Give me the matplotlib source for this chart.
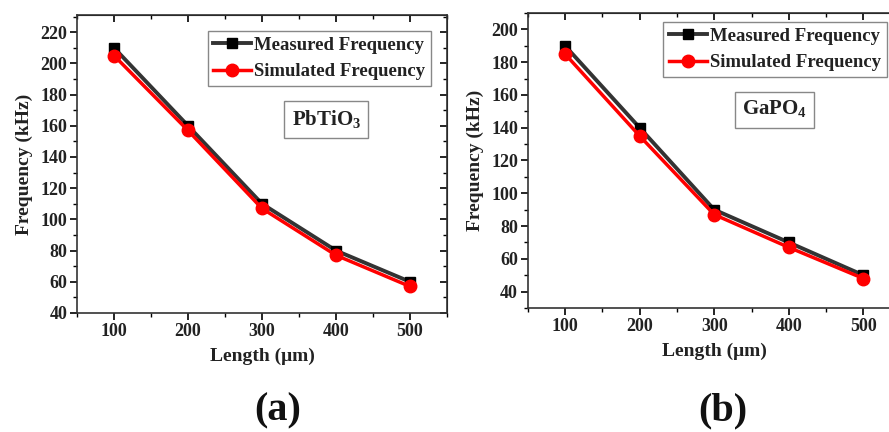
import matplotlib
matplotlib.use('Agg')
import matplotlib.pyplot as plt
from matplotlib.ticker import MultipleLocator

# data
length = [100, 200, 300, 400, 500]
pbtio3_measured = [210, 160, 110, 80, 60]
pbtio3_simulated = [205, 157, 107, 77, 57]
gapo4_measured = [190, 140, 90, 70, 50]
gapo4_simulated = [185, 135, 87, 67, 48]

plt.rcParams['font.family'] = ['Liberation Serif', 'DejaVu Serif']
plt.rcParams['font.weight'] = 'bold'
plt.rcParams['mathtext.fontset'] = 'custom'
plt.rcParams['mathtext.rm'] = 'Liberation Serif:bold'
plt.rcParams['mathtext.bf'] = 'Liberation Serif:bold'

fig = plt.figure(figsize=(8.89, 4.32), dpi=100)


def panel(rect, meas, sim, ylim, material, text_xy, leg_anchor):
    ax = fig.add_axes(rect)
    ax.plot(length, meas, color='#333333', lw=2.8, marker='s', ms=7,
            mfc='black', mec='black', label='Measured Frequency', zorder=3)
    ax.plot(length, sim, color='#ff0000', lw=2.5, marker='o', ms=9,
            mfc='#ff0000', mec='#ff0000', label='Simulated Frequency', zorder=4)
    ax.set_xlim(50, 550)
    ax.set_ylim(*ylim)
    ax.xaxis.set_major_locator(MultipleLocator(100))
    ax.xaxis.set_minor_locator(MultipleLocator(50))
    ax.yaxis.set_major_locator(MultipleLocator(20))
    ax.yaxis.set_minor_locator(MultipleLocator(10))
    ax.tick_params(which='major', direction='out', length=5, width=1.2,
                   labelsize=13, pad=2, labelcolor='#222222')
    ax.tick_params(which='minor', direction='out', length=3, width=1)
    for lbl in ax.get_xticklabels() + ax.get_yticklabels():
        lbl.set_fontweight('bold')
    for sp in ax.spines.values():
        sp.set_linewidth(1.2)
        sp.set_color('#333333')
    # mirrored ticks pointing inward on top and right
    top = ax.secondary_xaxis('top')
    top.set_xticks(length)
    top.xaxis.set_minor_locator(MultipleLocator(50))
    top.tick_params(which='both', direction='in', labeltop=False)
    top.tick_params(which='major', length=5, width=1.2)
    top.tick_params(which='minor', length=3, width=1)
    right = ax.secondary_yaxis('right')
    right.yaxis.set_major_locator(MultipleLocator(20))
    right.yaxis.set_minor_locator(MultipleLocator(10))
    right.tick_params(which='both', direction='in', labelright=False)
    right.tick_params(which='major', length=5, width=1.2)
    right.tick_params(which='minor', length=3, width=1)

    ax.set_xlabel('Length (μm)', fontsize=14, fontweight='bold', labelpad=6,
                  color='#222222')
    ax.set_ylabel('Frequency (kHz)', fontsize=14, fontweight='bold', labelpad=5,
                  color='#222222')
    leg = ax.legend(loc='upper right', bbox_to_anchor=leg_anchor, fontsize=13.5,
                    fancybox=False, framealpha=1, edgecolor='#888888',
                    handlelength=2.0, handletextpad=0.2, borderpad=0.3,
                    labelspacing=0.5, borderaxespad=0)
    leg.get_frame().set_linewidth(1)
    for t in leg.get_texts():
        t.set_fontweight('bold')
        t.set_color('#222222')
    ax.text(text_xy[0], text_xy[1], material, fontsize=15, fontweight='bold',
            ha='center', va='center', color='#222222',
            bbox=dict(boxstyle='square,pad=0.35', fc='white', ec='#888888', lw=1))
    return ax


panel([0.0866, 0.2755, 0.4162, 0.6898], pbtio3_measured, pbtio3_simulated,
      (40, 231), r'PbTiO$_\mathbf{3}$', (387, 164), (0.957, 0.946))
panel([0.5936, 0.287, 0.4196, 0.683], gapo4_measured, gapo4_simulated,
      (30, 210), r'GaPO$_\mathbf{4}$', (381, 151), (0.963, 0.969))

fig.text(0.312, 0.006, '(a)', fontsize=29, fontweight='bold',
         ha='center', va='bottom', color='#111111')
fig.text(0.813, 0.006, '(b)', fontsize=29, fontweight='bold',
         ha='center', va='bottom', color='#111111')

fig.savefig('out.png', dpi=100)
